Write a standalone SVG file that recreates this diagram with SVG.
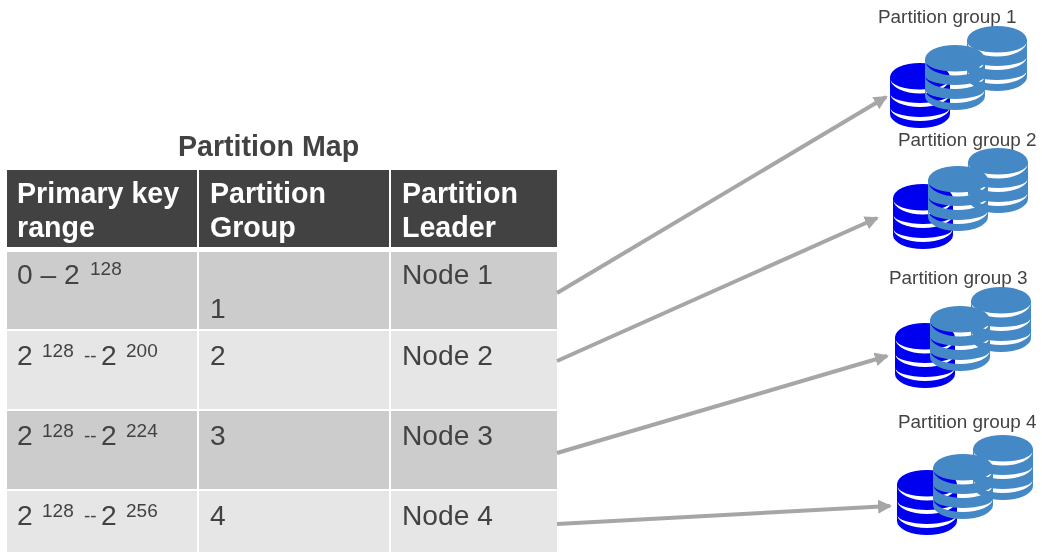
<svg xmlns="http://www.w3.org/2000/svg" width="1042" height="552" viewBox="0 0 1042 552">
<style>
text{font-family:"Liberation Sans",Arial,sans-serif;fill:#434343}
.h{font-size:28.6px;font-weight:700;fill:#fff}
.t{font-size:28.6px;font-weight:700}
.c{font-size:28.2px}
.s{font-size:19px}
.l{font-size:18.9px}
.hd{fill:#434343}.dk{fill:#cccccc}.lt{fill:#e6e6e6}
.blue{fill:#0000f0}.steel{fill:#4488c6}
.conn{stroke:#a6a6a6;stroke-width:4;fill:none;marker-end:url(#arrow)}
svg>g{filter:url(#soft)}
</style>
<defs>
<filter id="soft" filterUnits="userSpaceOnUse" x="0" y="0" width="1042" height="552"><feGaussianBlur stdDeviation="0.45"/></filter>
<marker id="arrow" markerUnits="userSpaceOnUse" markerWidth="16" markerHeight="16" refX="12" refY="7" orient="auto"><path d="M0,0L14,7L0,14Z" fill="#a6a6a6"/></marker>
<path id="cyl" fill-rule="evenodd" d="M0,14A30,14 0 0 1 60,14V51A30,14 0 0 1 0,51Z
M0.5,16A29.5,14.5 0 0 0 59.5,16A29.5,10.5 0 0 1 0.5,16Z
M0.5,31A29.5,13 0 0 0 59.5,31A29.5,9 0 0 1 0.5,31Z
M0.5,45A29.5,13 0 0 0 59.5,45A29.5,9 0 0 1 0.5,45Z"/>
</defs>
<rect width="1042" height="552" fill="#fff"/>
<g id="partition-map">
<text class="t" x="178" y="156">Partition Map</text>
<rect class="hd" x="7" y="170" width="190" height="77"/><rect class="hd" x="199" y="170" width="190" height="77"/><rect class="hd" x="391" y="170" width="166" height="77"/>
<rect class="dk" x="7" y="252" width="190" height="77"/><rect class="dk" x="199" y="252" width="190" height="77"/><rect class="dk" x="391" y="252" width="166" height="77"/>
<rect class="lt" x="7" y="331" width="190" height="78"/><rect class="lt" x="199" y="331" width="190" height="78"/><rect class="lt" x="391" y="331" width="166" height="78"/>
<rect class="dk" x="7" y="411" width="190" height="78"/><rect class="dk" x="199" y="411" width="190" height="78"/><rect class="dk" x="391" y="411" width="166" height="78"/>
<rect class="lt" x="7" y="491" width="190" height="61"/><rect class="lt" x="199" y="491" width="190" height="61"/><rect class="lt" x="391" y="491" width="166" height="61"/>
<text class="h" x="17" y="203">Primary key</text><text class="h" x="17" y="237">range</text>
<text class="h" x="210" y="203">Partition</text><text class="h" x="210" y="237">Group</text>
<text class="h" x="402" y="203">Partition</text><text class="h" x="402" y="237">Leader</text>
<text class="c" x="17" y="284">0 – 2</text><text class="s" x="90" y="275">128</text>
<text class="c" x="210" y="318">1</text><text class="c" x="402" y="284">Node 1</text>
<text class="c" x="17" y="365">2</text><text class="s" x="42" y="357">128</text><text class="s" x="84" y="362">--</text><text class="c" x="101" y="365">2</text><text class="s" x="126" y="357">200</text>
<text class="c" x="210" y="365">2</text><text class="c" x="402" y="365">Node 2</text>
<text class="c" x="17" y="445">2</text><text class="s" x="42" y="437">128</text><text class="s" x="84" y="442">--</text><text class="c" x="101" y="445">2</text><text class="s" x="126" y="437">224</text>
<text class="c" x="210" y="445">3</text><text class="c" x="402" y="445">Node 3</text>
<text class="c" x="17" y="525">2</text><text class="s" x="42" y="517">128</text><text class="s" x="84" y="522">--</text><text class="c" x="101" y="525">2</text><text class="s" x="126" y="517">256</text>
<text class="c" x="210" y="525">4</text><text class="c" x="402" y="525">Node 4</text>
</g>
<g id="connectors">
<path class="conn" d="M557,293L886,97"/>
<path class="conn" d="M557,361L877,218"/>
<path class="conn" d="M557,453L887,356"/>
<path class="conn" d="M557,524L890,506"/>
</g>
<g id="partition-group-1">
<text class="l" x="878" y="23">Partition group 1</text>
<use href="#cyl" class="blue" x="890" y="63"/><use href="#cyl" class="steel" x="967" y="26"/><use href="#cyl" class="steel" x="925" y="45"/>
</g>
<g id="partition-group-2">
<text class="l" x="898" y="146">Partition group 2</text>
<use href="#cyl" class="blue" x="893" y="184"/><use href="#cyl" class="steel" x="968" y="148"/><use href="#cyl" class="steel" x="928" y="166"/>
</g>
<g id="partition-group-3">
<text class="l" x="889" y="284">Partition group 3</text>
<use href="#cyl" class="blue" x="895" y="323"/><use href="#cyl" class="steel" x="971" y="287"/><use href="#cyl" class="steel" x="930" y="306"/>
</g>
<g id="partition-group-4">
<text class="l" x="898" y="428">Partition group 4</text>
<use href="#cyl" class="blue" x="897" y="470"/><use href="#cyl" class="steel" x="973" y="435"/><use href="#cyl" class="steel" x="933" y="454"/>
</g>
</svg>
